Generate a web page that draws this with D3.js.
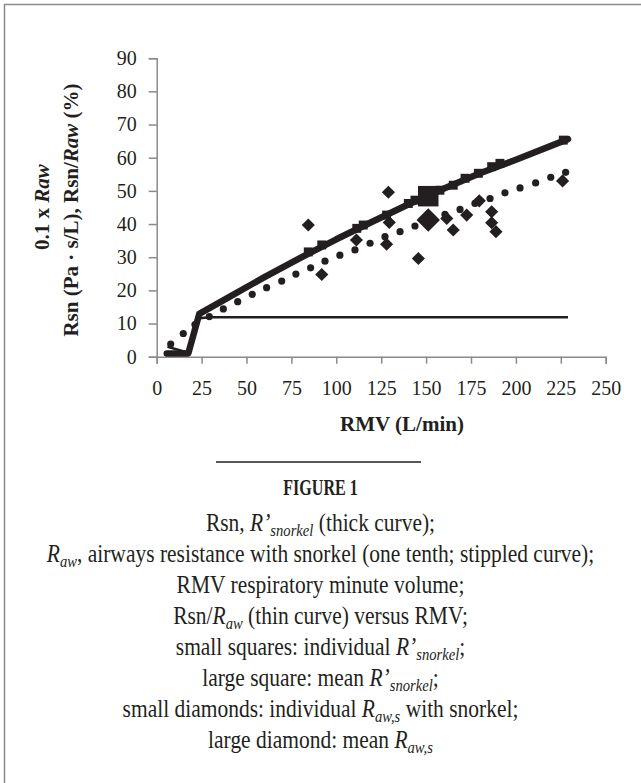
<!DOCTYPE html>
<html>
<head>
<meta charset="utf-8">
<script src="https://cdn.jsdelivr.net/npm/d3@7"></script>
<style>
  body { margin: 0; background: #fff; }
  svg { display: block; }
  text { font-family: "Liberation Serif", serif; fill: #231f20; }
</style>
</head>
<body>
<svg id="svg" width="641" height="783"></svg>
<script>
// thick curve: Rsn (R'snorkel)
const rsnCurve = [[5.6, 1.0], [17.6, 1.0], [23.7, 12.9], [40, 17.9], [60, 24.0], [80, 29.8],
  [100, 35.4], [120, 40.7], [140, 45.9], [160, 50.7], [180, 55.3], [200, 59.4], [229, 65.6]]
// thin curve: Rsn/Raw
const ratioCurve = [[6.0, 3.0], [17.6, 1.2], [23.5, 11.6], [30, 11.9], [229, 11.9]]
// stippled curve: Raw / 10
const rawDots = [[7.8, 3.8], [14.8, 7.0], [21.3, 9.7], [29.3, 12.1], [37.1, 14.4], [45.1, 16.6],
  [53.2, 18.8], [61.2, 20.8], [69.6, 22.8], [77.5, 24.9], [85.7, 26.8], [93.7, 28.8],
  [102, 30.6], [110.4, 32.2], [118.8, 34.2], [127.1, 36.2], [135.5, 37.7], [143.8, 39.4],
  [152.1, 41.1], [160.5, 42.9], [168.9, 44.4], [177.2, 46.2], [185.6, 47.7], [193.9, 49.4],
  [202.3, 50.9], [211, 52.4], [219.4, 54.1], [227.7, 55.6]]
// small squares: individual R'snorkel
const rsnPoints = [[84.4, 31.6], [91.9, 33.7], [111.4, 38.7], [115, 39.7], [128, 42.7],
  [140.1, 46.2], [143.8, 47.2], [157.7, 50.2], [165.1, 51.7], [171.7, 53.8], [179.1, 55.3],
  [186.5, 57.3], [191.1, 58.3], [226.4, 65.3]]
// small diamonds: individual Raw,s
const rawPoints = [[84.4, 39.7], [91.9, 24.8], [111.2, 35.2], [129, 49.6], [129.5, 40.5],
  [128, 33.9], [145.7, 29.6], [161.5, 41.7], [165.1, 38.2], [172.6, 42.7], [179.6, 47.0],
  [186.5, 43.7], [186.5, 40.4], [188.9, 37.7], [226, 53.0]]
const rsnMean = [151.2, 48.4]
const rawMean = [151.2, 41.2]

const xTicks = [0, 25, 50, 75, 100, 125, 150, 175, 200, 225, 250]
const yTicks = [0, 10, 20, 30, 40, 50, 60, 70, 80, 90]

const caption = [
  [['Rsn, ', ''], ['R’', 'i'], ['snorkel', 's'], [' (thick curve);', '']],
  [['R', 'i'], ['aw', 's'], [', airways resistance with snorkel (one tenth; stippled curve);', '']],
  [['RMV respiratory minute volume;', '']],
  [['Rsn/', ''], ['R', 'i'], ['aw', 's'], [' (thin curve) versus RMV;', '']],
  [['small squares: individual ', ''], ['R’', 'i'], ['snorkel', 's'], [';', '']],
  [['large square: mean ', ''], ['R’', 'i'], ['snorkel', 's'], [';', '']],
  [['small diamonds: individual ', ''], ['R', 'i'], ['aw,s', 's'], [' with snorkel;', '']],
  [['large diamond: mean ', ''], ['R', 'i'], ['aw,s', 's']]
]

const ink = '#231f20'
const axisGrey = '#8a8a8a'

const svg = d3.select('#svg')

// frame
svg.append('path')
  .attr('d', 'M4.5,783V4.5H641')
  .attr('fill', 'none')
  .attr('stroke', axisGrey)
  .attr('stroke-width', 1.5)

const x = d3.scaleLinear().domain([0, 250]).range([156.7, 605.7])
const y = d3.scaleLinear().domain([0, 90]).range([356.7, 58.2])

const xAxis = svg.append('g')
  .attr('transform', `translate(0, ${y(0)})`)
  .call(d3.axisBottom(x).tickValues(xTicks).tickSize(7).tickPadding(17))
const yAxis = svg.append('g')
  .attr('transform', `translate(${x(0)}, 0)`)
  .call(d3.axisLeft(y).tickValues(yTicks).tickSize(8).tickPadding(12))

;[xAxis, yAxis].forEach(g => {
  g.selectAll('path, line').attr('stroke', axisGrey).attr('stroke-width', 1.5)
  g.selectAll('text')
    .attr('fill', ink)
    .style('font-family', '"Liberation Serif", serif')
    .style('font-size', '20px')
})

// axis titles
svg.append('text')
  .attr('x', 402)
  .attr('y', 431)
  .attr('text-anchor', 'middle')
  .style('font-size', '21px')
  .style('font-weight', 'bold')
  .text('RMV (L/min)')

const yTitle1 = svg.append('text')
  .attr('transform', 'translate(49, 207) rotate(-90)')
  .attr('text-anchor', 'middle')
  .style('font-size', '21px')
  .style('font-weight', 'bold')
yTitle1.append('tspan').text('0.1 x ')
yTitle1.append('tspan').style('font-style', 'italic').text('Raw')

const yTitle2 = svg.append('text')
  .attr('transform', 'translate(78, 210) rotate(-90)')
  .attr('text-anchor', 'middle')
  .style('font-size', '21px')
  .style('font-weight', 'bold')
yTitle2.append('tspan').text('Rsn (Pa · s/L), Rsn/')
yTitle2.append('tspan').style('font-style', 'italic').text('Raw')
yTitle2.append('tspan').text(' (%)')

// curves
const line = d3.line().x(d => x(d[0])).y(d => y(d[1]))

svg.append('path')
  .datum(ratioCurve)
  .attr('d', line)
  .attr('fill', 'none')
  .attr('stroke', ink)
  .attr('stroke-width', 2.5)

svg.append('path')
  .datum(rsnCurve)
  .attr('d', line)
  .attr('fill', 'none')
  .attr('stroke', ink)
  .attr('stroke-width', 6.5)
  .attr('stroke-linejoin', 'round')
  .attr('stroke-linecap', 'round')

svg.append('g')
  .selectAll('circle')
  .data(rawDots)
  .join('circle')
  .attr('cx', d => x(d[0]))
  .attr('cy', d => y(d[1]))
  .attr('r', 3.6)
  .attr('fill', ink)

const square = d3.symbol().type(d3.symbolSquare)
const diamond = d3.symbol().type(d3.symbolDiamond2)

svg.append('g')
  .selectAll('path')
  .data(rsnPoints)
  .join('path')
  .attr('transform', d => `translate(${x(d[0])}, ${y(d[1])})`)
  .attr('d', square.size(80))
  .attr('fill', ink)

svg.append('g')
  .selectAll('path')
  .data(rawPoints)
  .join('path')
  .attr('transform', d => `translate(${x(d[0])}, ${y(d[1])})`)
  .attr('d', diamond.size(110))
  .attr('fill', ink)

svg.append('path')
  .attr('transform', `translate(${x(rsnMean[0])}, ${y(rsnMean[1])})`)
  .attr('d', square.size(420))
  .attr('fill', ink)

svg.append('path')
  .attr('transform', `translate(${x(rawMean[0])}, ${y(rawMean[1])})`)
  .attr('d', diamond.size(350))
  .attr('fill', ink)

// caption
svg.append('line')
  .attr('x1', 216).attr('x2', 421)
  .attr('y1', 462).attr('y2', 462)
  .attr('stroke', ink)
  .attr('stroke-width', 1.3)

svg.append('text')
  .attr('transform', 'scale(0.67, 1)')
  .attr('x', 320.5 / 0.67)
  .attr('y', 495)
  .attr('text-anchor', 'middle')
  .style('font-size', '24px')
  .style('font-weight', 'bold')
  .text('FIGURE 1')

const sx = 0.86
caption.forEach((parts, i) => {
  const t = svg.append('text')
    .attr('transform', `scale(${sx}, 1)`)
    .attr('x', 320.5 / sx)
    .attr('y', 531 + i * 31)
    .attr('text-anchor', 'middle')
    .style('font-size', '25px')
  let shifted = false
  parts.forEach(([str, kind]) => {
    const s = t.append('tspan').text(str)
    if (kind === 'i') s.style('font-style', 'italic')
    if (kind === 's') {
      s.style('font-style', 'italic').style('font-size', '17px').attr('dy', 5)
      shifted = true
    } else if (shifted) {
      s.attr('dy', -5)
      shifted = false
    }
  })
})
</script>
</body>
</html>
